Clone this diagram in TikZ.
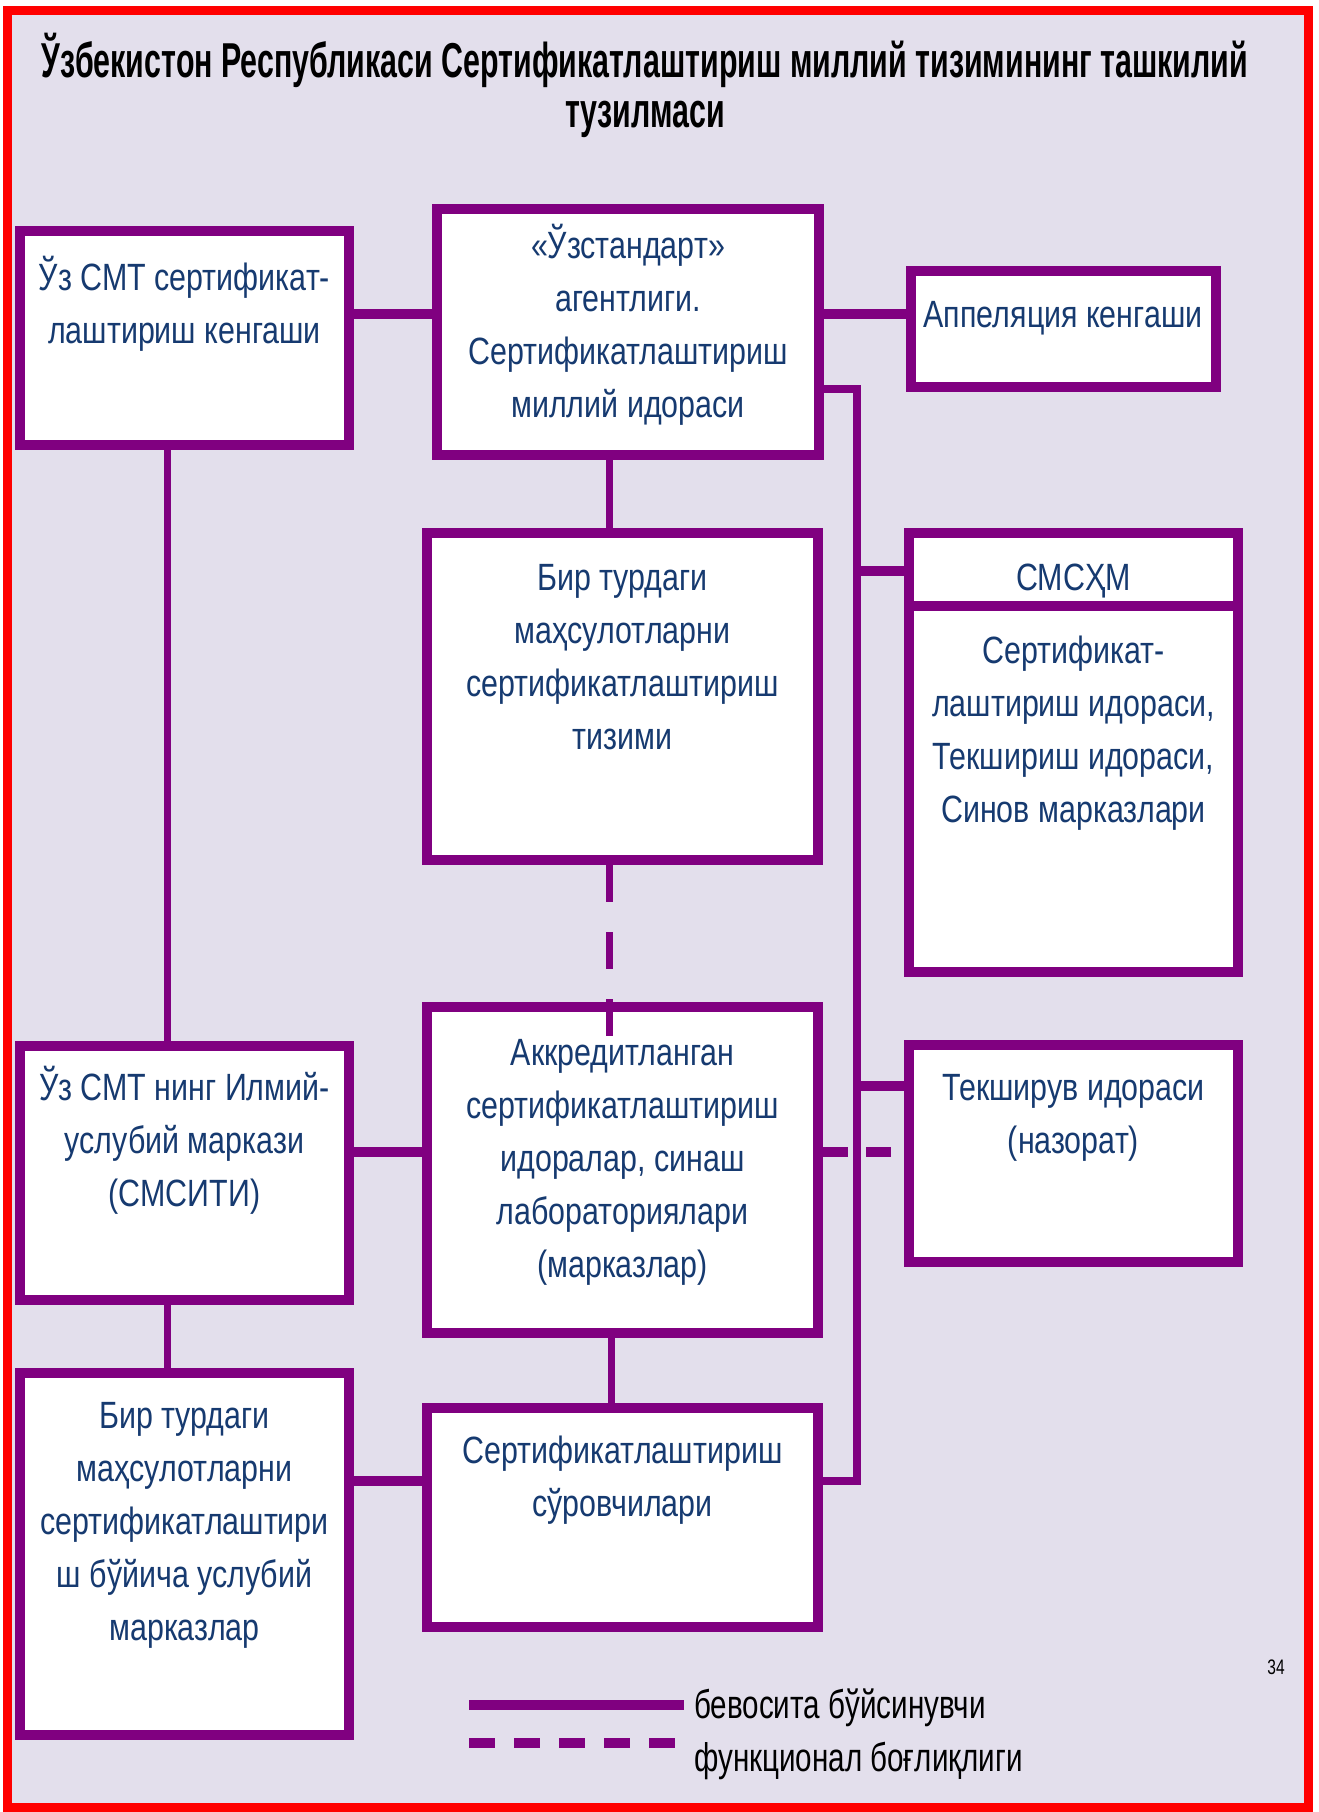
\documentclass[tikz,border=0pt]{standalone}
\usepackage{fontspec}
\setmainfont{Liberation Sans}
\newfontfamily\boxfont{Liberation Sans}[FakeStretch=0.80]
\newfontfamily\titlefont{Liberation Sans}[FakeStretch=0.62]
\newfontfamily\legfont{Liberation Sans}[FakeStretch=0.74]
\definecolor{bg}{RGB}{227,223,236}
\definecolor{pur}{RGB}{128,0,128}
\definecolor{navy}{RGB}{22,58,112}
\definecolor{redb}{RGB}{255,0,0}
\newcommand\btext[1]{\parbox[t]{420pt}{\centering\boxfont\fontsize{38pt}{53pt}\selectfont #1}}
\newcommand\mkbox[5]{\node[box, minimum width={(#4-#2-10)*1pt}, minimum height={(#5-#3-10)*1pt}] (#1) at ({(#2+#4)/2},{(#3+#5)/2}) {};}
\begin{document}
\begin{tikzpicture}[x=1pt,y=-1pt,
  box/.style={draw=pur, fill=white, line width=10pt, rectangle, inner sep=0pt},
  txt/.style={anchor=base, inner sep=0pt, text=navy},
  hline/.style={draw=pur, line width=10pt},
  vline/.style={draw=pur, line width=7pt},
  rline/.style={draw=pur, line width=8pt, line join=miter},
  vdash/.style={draw=pur, line width=7pt, dash pattern=on 37pt off 30pt},
  hdash/.style={draw=pur, line width=10pt, dash pattern=on 25pt off 18pt},
  ldash/.style={draw=pur, line width=10pt, dash pattern=on 26pt off 19pt},
  leg/.style={anchor=base west, inner sep=0pt, text=black},
]
\useasboundingbox (0,0) rectangle (1319,1812);
\fill[white] (0,0) rectangle (1319,1812);
\draw[redb, line width=9pt, fill=bg] (7.5,10.5) rectangle (1308.5,1807.5);

% title
\node[anchor=base, inner sep=0pt] (title) at (645,77) {\parbox[t]{1300pt}{\centering\titlefont\bfseries\fontsize{49pt}{50pt}\selectfont Ўзбекистон Республикаси Сертификатлаштириш миллий тизимининг ташкилий\\тузилмаси}};

% helper coordinates
\coordinate (yA) at (0,314);
\coordinate (vr) at (857,389);
\coordinate (yB) at (0,571);
\coordinate (yC) at (0,1086);
\coordinate (yD) at (0,1152);
\coordinate (yE) at (0,1481);
\coordinate (xL) at (167,0);
\coordinate (xM) at (609,0);
\coordinate (xM2) at (611,0);
\coordinate (ydiv) at (0,606);
\coordinate (d1) at (609,1038);

% boxes
\mkbox{b1}{15}{226}{354}{450}
\mkbox{b2}{432}{204}{824}{460}
\mkbox{b3}{906}{266}{1221}{392}
\mkbox{b4}{422}{528}{823}{865}
\mkbox{b5}{904}{528}{1243}{977}
\mkbox{b6}{15}{1041}{354}{1305}
\mkbox{b7}{422}{1002}{823}{1338}
\mkbox{b8}{904}{1040}{1243}{1267}
\mkbox{b9}{15}{1368}{354}{1740}
\mkbox{b10}{422}{1403}{823}{1632}
\draw[hline] (b5.west |- ydiv) -- (b5.east |- ydiv);

% solid connectors
\draw[hline] (b1.east |- yA) -- (b2.west |- yA);
\draw[hline] (b2.east |- yA) -- (b3.west |- yA);
\draw[rline] (b2.east |- vr) -- (vr) -- (vr |- yE) -- (b10.east |- yE);
\draw[hline] (vr |- yB) -- (b5.west |- yB);
\draw[hline] (vr |- yC) -- (b8.west |- yC);
\draw[vline] (b1.south -| xL) -- (b6.north -| xL);
\draw[vline] (b6.south -| xL) -- (b9.north -| xL);
\draw[vline] (b2.south -| xM) -- (b4.north -| xM);
\draw[vline] (b7.south -| xM2) -- (b10.north -| xM2);
\draw[hline] (b6.east |- yD) -- (b7.west |- yD);
\draw[hline] (b9.east |- yE) -- (b10.west |- yE);

% dashed connectors
\draw[vdash] (b4.south -| xM) -- (d1);
\draw[hdash] (b7.east |- yD) -- (b8.west |- yD);

% box texts
\node[txt] (t1) at (184.5,290) {\btext{Ўз СМТ сертификат-\\лаштириш кенгаши}};
\node[txt] (t2) at (628,258) {\btext{«Ўзстандарт»\\агентлиги.\\Сертификатлаштириш\\миллий идораси}};
\node[txt] (t3) at (1063,327) {\btext{Аппеляция кенгаши}};
\node[txt] (t4) at (622.5,590) {\btext{Бир турдаги\\маҳсулотларни\\сертификатлаштириш\\тизими}};
\node[txt] (t5a) at (1073.5,590) {\btext{СМСҲМ}};
\node[txt] (t5b) at (1073.5,663) {\btext{Сертификат-\\лаштириш идораси,\\Текшириш идораси,\\Синов марказлари}};
\node[txt] (t6) at (184.5,1100) {\btext{Ўз СМТ нинг Илмий-\\услубий маркази\\(СМСИТИ)}};
\node[txt] (t7) at (622.5,1065) {\btext{Аккредитланган\\сертификатлаштириш\\идоралар, синаш\\лабораториялари\\(марказлар)}};
\node[txt] (t8) at (1073.5,1100) {\btext{Текширув идораси\\(назорат)}};
\node[txt] (t9) at (184.5,1428) {\btext{Бир турдаги\\маҳсулотларни\\сертификатлаштири\\ш бўйича услубий\\марказлар}};
\node[txt] (t10) at (622.5,1463) {\btext{Сертификатлаштириш\\сўровчилари}};

% legend
\coordinate (l1a) at (469,1705);
\coordinate (l1b) at (684,1705);
\coordinate (l2a) at (469,1743);
\coordinate (l2b) at (676,1743);
\draw[hline] (l1a) -- (l1b);
\draw[ldash] (l2a) -- (l2b);
\node[leg] (lt1) at (694,1718) {\legfont\fontsize{40pt}{40pt}\selectfont бевосита бўйсинувчи};
\node[leg] (lt2) at (694,1771) {\legfont\fontsize{40pt}{40pt}\selectfont функционал боғлиқлиги};
\node[anchor=base, inner sep=0pt] (pg) at (1276,1674) {\legfont\fontsize{21pt}{21pt}\selectfont 34};
\end{tikzpicture}
\end{document}
